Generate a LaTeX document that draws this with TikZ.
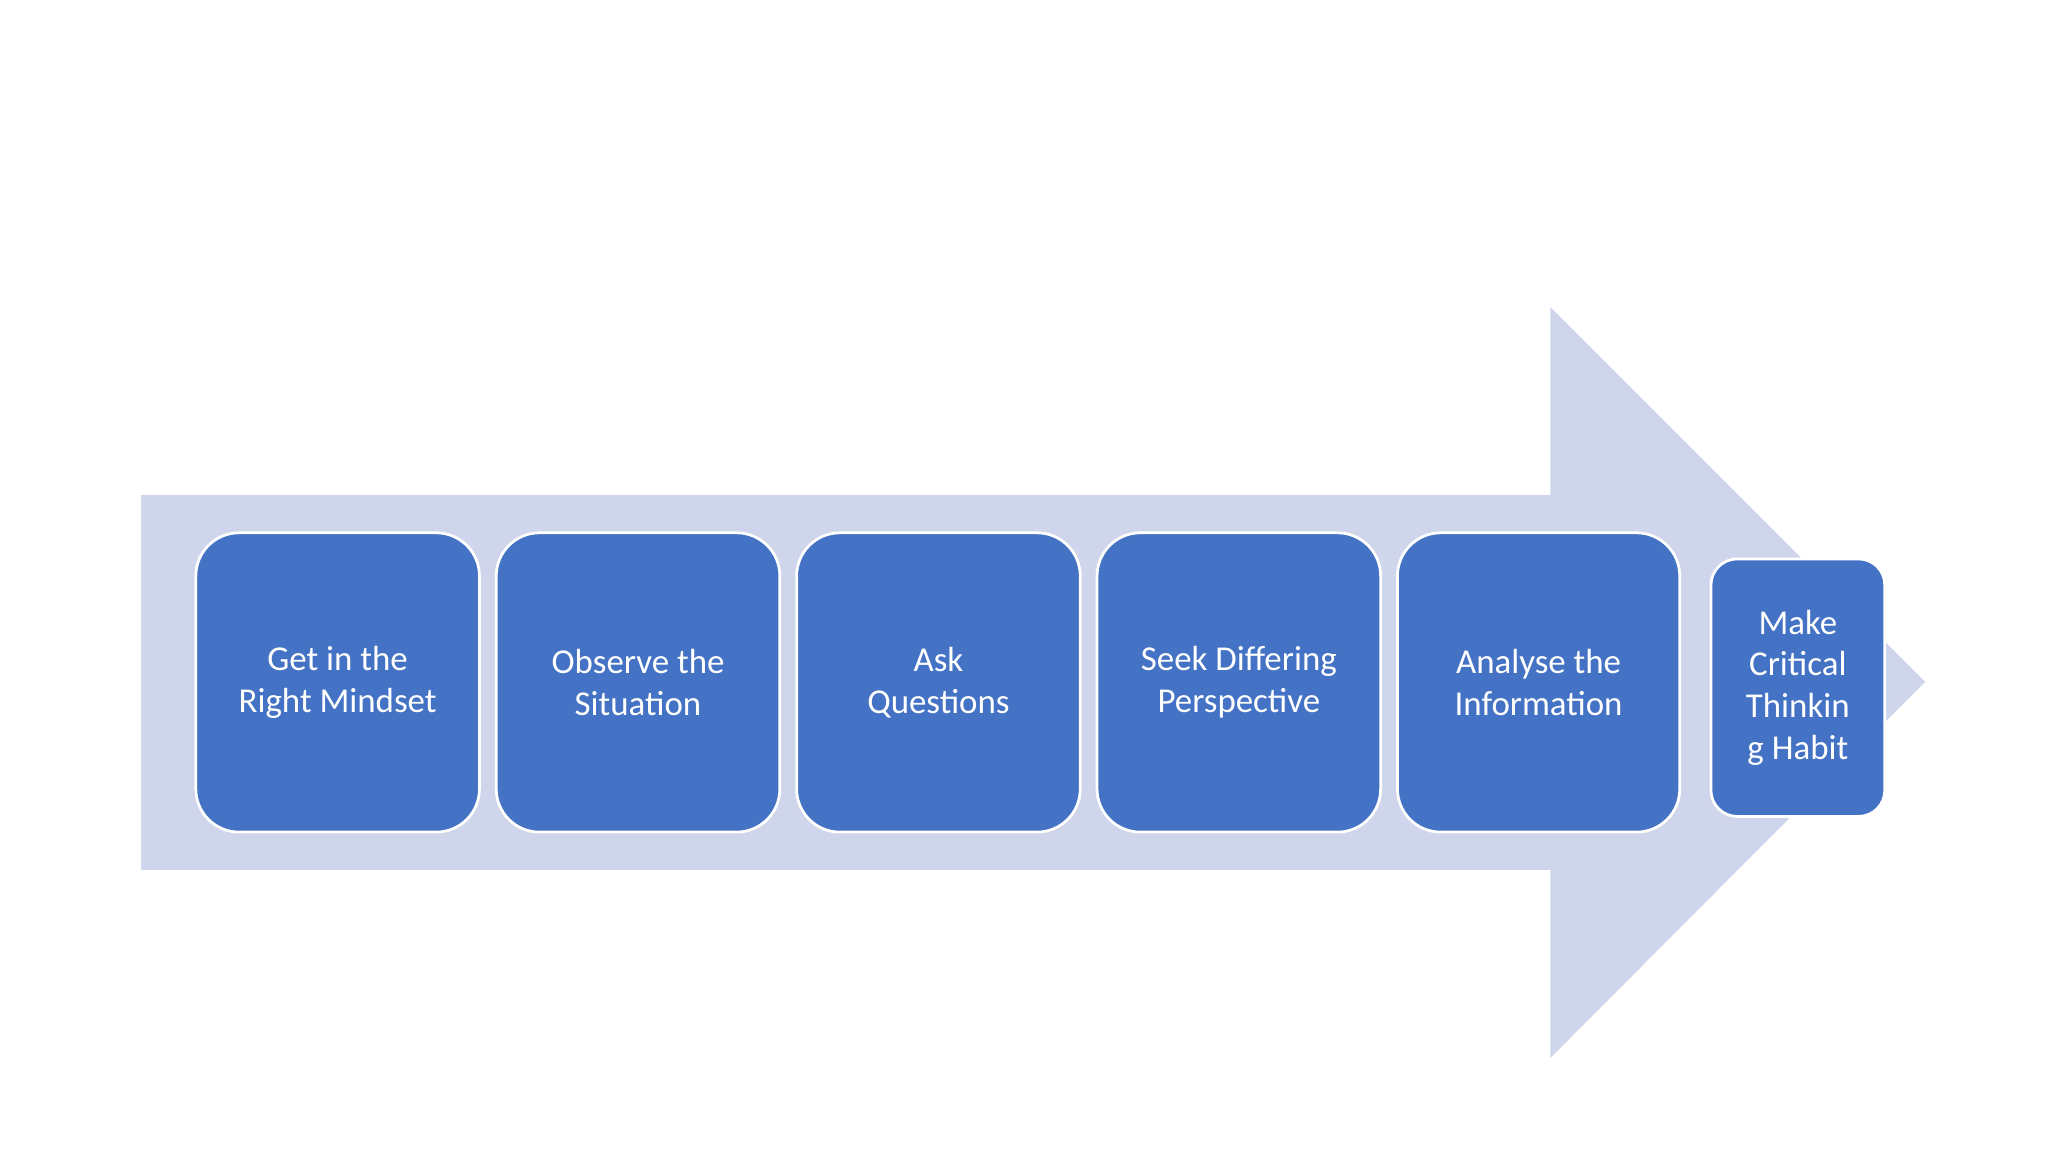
\documentclass[tikz,border=0pt]{standalone}
\usepackage{fontspec}
\setmainfont{Carlito}
\definecolor{arrowc}{HTML}{CFD5EA}
\definecolor{boxc}{HTML}{4472C4}
\begin{document}
\begin{tikzpicture}[x=0.01cm,y=-0.01cm,
  stepbox/.style={draw=white,line width=0.6pt,fill=boxc,rounded corners=0.33cm,text=white,align=center,font=\fontsize{7.6}{9.1}\selectfont,inner sep=0pt}]
\useasboundingbox (0,0) rectangle (1568,882);
\fill[arrowc] (108,379) -- (1187,379) -- (1187,235) -- (1474,522) -- (1187,810) -- (1187,666) -- (108,666) -- cycle;
\node[stepbox,minimum width=2.17cm,minimum height=2.29cm] (a) at (258.5,522.5) {Get in the\\Right Mindset};
\node[stepbox,minimum width=2.17cm,minimum height=2.29cm] (b) at (488.5,522.5) {Observe the\\Situation};
\node[stepbox,minimum width=2.17cm,minimum height=2.29cm] (c) at (718.5,522.5) {Ask\\Questions};
\node[stepbox,minimum width=2.17cm,minimum height=2.29cm] (d) at (948.5,522.5) {Seek Differing\\Perspective};
\node[stepbox,minimum width=2.16cm,minimum height=2.29cm] (e) at (1178,522.5) {Analyse the\\Information};
\node[stepbox,minimum width=1.33cm,minimum height=1.97cm,rounded corners=0.2cm] (f) at (1376.5,526.5) {Make\\Critical\\Thinkin\\g Habit};
\end{tikzpicture}
\end{document}
